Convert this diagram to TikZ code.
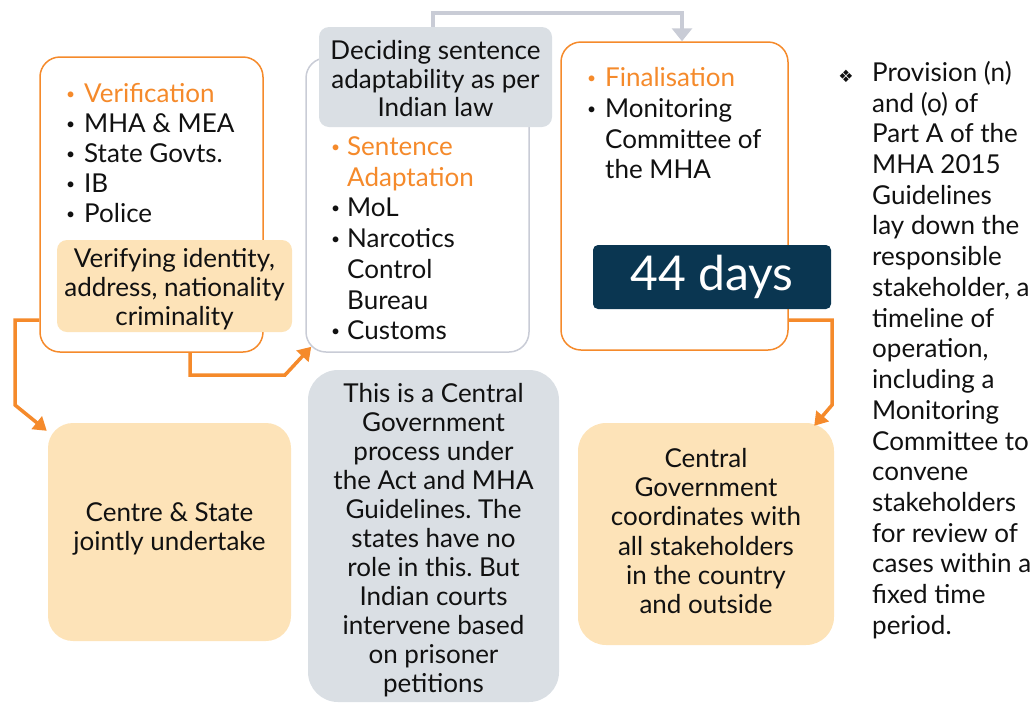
\documentclass[tikz,border=0pt]{standalone}
\usepackage{fontspec}
\setmainfont{Lato}[Ligatures={Common,Rare}]
\newfontfamily\dejavu{DejaVu Sans}
\usetikzlibrary{arrows.meta,calc}
\definecolor{orng}{HTML}{F58A2B}
\definecolor{peach}{HTML}{FDE3B8}
\definecolor{gfill}{HTML}{DADFE4}
\definecolor{gline}{HTML}{C9CCD6}
\definecolor{navy}{HTML}{0A3651}
\definecolor{txt}{HTML}{111111}
\newcommand{\bl}[1]{\makebox[#1][l]{\hspace{2pt}\raisebox{0.12em}{\scalebox{0.6}{•}}}}
\newcommand{\nolig}{\kern0pt}
\frenchspacing
\tikzset{
  obox/.style={draw=orng, line width=1.5pt, fill=white, rounded corners=20pt, minimum width=#1},
  gbox/.style={draw=gline, line width=1.5pt, fill=white, rounded corners=20pt},
  pbox/.style={fill=peach, rounded corners=#1, inner sep=0pt},
  grbox/.style={fill=gfill, rounded corners=#1, inner sep=0pt},
  body/.style={text=txt, font=\fontsize{26}{29}\selectfont, align=center, inner sep=0pt},
  list/.style={text=txt, font=\fontsize{26}{30.5}\selectfont, align=left, inner sep=0pt, anchor=north west},
  oarrow/.style={draw=orng, line width=3.5pt, -{Triangle[length=13pt,width=16pt]}},
  garrow/.style={draw=gline, line width=4pt, -{Triangle[length=13pt,width=20pt]}},
}
\begin{document}
\begin{tikzpicture}[x=1pt,y=-1pt]
\useasboundingbox (0,0) rectangle (1033,702);
% column 1
\node[obox=223pt, minimum height=295pt] (box1) at (151.5,204.5) {};
\node[list, font=\fontsize{26}{30}\selectfont] (l1) at (64,83) {\textcolor{orng}{\bl{20pt}Verification}\\ \bl{20pt}MHA \& MEA\\ \bl{20pt}State Govts.\\ \bl{20pt}IB\\ \bl{20pt}Police};
\node[pbox=10pt, minimum width=235pt, minimum height=92pt] (p1) at (174.5,286) {};
\node[body] (p1t) at (174.5,289) {Verifying identity,\\ address, nationality\\ criminality};
\node[pbox=25pt, minimum width=243pt, minimum height=218pt] (box4) at (169.5,532) {};
\node[body] (box4t) at (169.5,529) {Centre \& State\\ jointly undertake};
% column 2
\node[gbox, minimum width=223pt, minimum height=294pt] (box2) at (417.5,205) {};
\node[grbox=10pt, minimum width=233pt, minimum height=100pt] (hdr) at (435.5,77) {};
\node[body, font=\fontsize{26}{28.5}\selectfont] (hdrt) at (435.5,79) {Deciding sentence\\ adaptability as per\\ Indian law};
\node[list, font=\fontsize{26}{30.7}\selectfont] (l2) at (329,136.5) {\textcolor{orng}{\bl{18pt}Sentence}\\ \textcolor{orng}{\hspace{18pt}Adaptation}\\ \bl{18pt}MoL\\ \bl{18pt}Narcotics\\ \hspace{18pt}Control\\ \hspace{18pt}Bureau\\ \bl{18pt}Cus\nolig toms};
\node[grbox=30pt, minimum width=251pt, minimum height=332pt] (box5) at (433.5,536) {};
\node[body] (box5t) at (433.5,540) {This is a Central\\ Government\\ process under\\ the Ac\nolig t and MHA\\ Guidelines. The\\ s\nolig tates have no\\ role in this. But\\ Indian courts\\ intervene based\\ on prisoner\\ petitions};
% column 3
\node[obox=227pt, minimum height=308pt] (box3) at (674.5,196) {};
\node[list, font=\fontsize{26}{30.7}\selectfont] (l3) at (585,67.5) {\textcolor{orng}{\bl{20pt}Finalisation}\\ \bl{20pt}Monitoring\\ \hspace{20pt}Committee of\\ \hspace{20pt}the MHA};
\node[fill=navy, rounded corners=5pt, minimum width=238pt, minimum height=64pt, inner sep=0pt] (days) at (712,277) {};
\node[text=white, font=\fontsize{48}{48}\selectfont, inner sep=0pt] (dayst) at (712,277) {44 days};
\node[pbox=28pt, minimum width=256pt, minimum height=222pt] (box6) at (706,534) {};
\node[body, font=\fontsize{26}{29.3}\selectfont] (box6t) at (706,531) {Central\\ Government\\ coordinates with\\ all s\nolig takeholders\\ in the country\\ and outside};
% right note
\node[text=txt, font=\dejavu\fontsize{17}{17}\selectfont, inner sep=0pt] (star) at (846,76) {❖};
\node[list, font=\fontsize{26}{30.72}\selectfont] (note) at (872,61) {Provision (n)\\ and (o) of\\ Part A of the\\ MHA 2015\\ Guidelines\\ lay down the\\ responsible\\ s\nolig takeholder, a\\ timeline of\\ operation,\\ including a\\ Monitoring\\ Committee to\\ convene\\ s\nolig takeholders\\ for review of\\ cases within a\\ fixed time\\ period.};
% connectors
\coordinate (c1) at (15,320);
\coordinate (c2) at (15,405);
\draw[oarrow, line join=miter] (box1.west |- c1) -- (c1) -- (c2) -- ([shift={(-1,8)}]box4.north west);
\coordinate (c3) at (190,375);
\coordinate (c4) at (285,375);
\draw[oarrow] (box1.south -| c3) -- (c3) -- (c4) -- ([shift={(6,-6)}]box2.south west);
\coordinate (c5) at (832,320);
\coordinate (c6) at (832,405);
\draw[oarrow] (box3.east |- c5) -- (c5) -- (c6) -- ([shift={(-20,3)}]box6.north east);
\coordinate (c7) at (433,13);
\coordinate (c8) at (682,13);
\draw[garrow] (hdr.north -| c7) -- (c7) -- (c8) -- (box3.north -| c8);
\end{tikzpicture}
\end{document}
